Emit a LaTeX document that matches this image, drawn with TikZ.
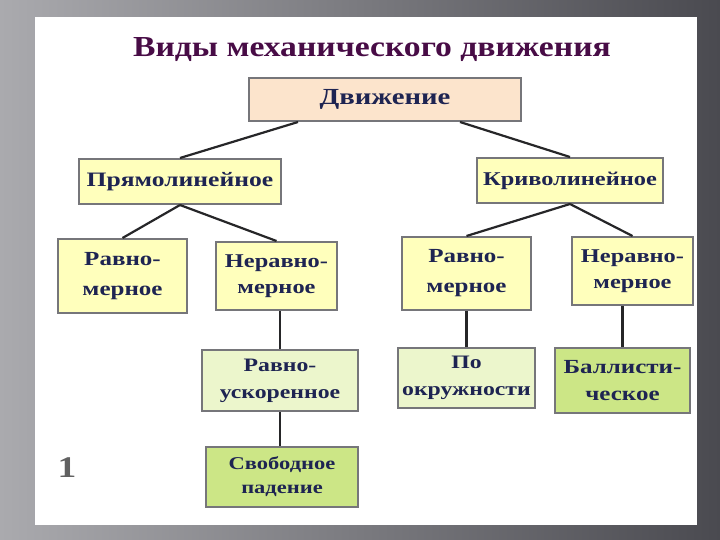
\documentclass[tikz,border=0pt]{standalone}
\usepackage{fontspec}
\usepackage{tikz}
\usetikzlibrary{positioning, calc}
\newfontfamily\slidefont[FakeStretch=1.25]{Liberation Serif}
\newfontfamily\headfont[FakeStretch=1.16]{Liberation Serif}
\definecolor{titlePurple}{RGB}{72,12,70}
\definecolor{textBlue}{RGB}{30,36,82}
\definecolor{frameGray}{RGB}{118,118,122}
\definecolor{peach}{RGB}{252,228,204}
\definecolor{paleYellow}{RGB}{255,255,188}
\definecolor{paleGreen}{RGB}{236,246,204}
\definecolor{leafGreen}{RGB}{204,230,134}
\definecolor{lineDark}{RGB}{38,38,40}
\definecolor{slideLight}{RGB}{170,170,174}
\definecolor{slideDark}{RGB}{74,74,80}

\begin{document}
\begin{tikzpicture}[
  x=1pt, y=-1pt,
  box/.style={draw=frameGray, line width=2pt, text=textBlue, align=center, inner sep=0pt},
  big/.style={box, font=\slidefont\bfseries\fontsize{20.5}{30}\selectfont},
  two/.style={box, font=\slidefont\bfseries\fontsize{20}{30}\selectfont},
  small/.style={box, font=\slidefont\bfseries\fontsize{19}{27}\selectfont},
  link/.style={draw=lineDark, line width=2.2pt}
]
  \shade[left color=slideLight, right color=slideDark] (0,0) rectangle (720,540);
  \fill[white] (35,17) rectangle (697,525);
  \useasboundingbox (0,0) rectangle (720,540);

  \node[anchor=base, text=titlePurple, font=\headfont\bfseries\fontsize{29}{29}\selectfont] (title) at (372,57) {Виды механического движения};

  \node[big, font=\slidefont\bfseries\fontsize{23}{30}\selectfont, fill=peach, minimum width=272, minimum height=43] (dv) at (385,99.5) {Движение};
  \node[big, fill=paleYellow, minimum width=202, minimum height=45] (pr) at (180,181.5) {Прямолинейное};
  \node[big, font=\slidefont\bfseries\fontsize{19.5}{30}\selectfont, fill=paleYellow, minimum width=186, minimum height=45] (kr) at (570,180.5) {Криволинейное};

  \node[two, fill=paleYellow, minimum width=129, minimum height=74] (rvL) at (122.5,276) {Равно-\\мерное};
  \node[two, font=\slidefont\bfseries\fontsize{19.5}{26}\selectfont, fill=paleYellow, minimum width=121, minimum height=68] (nrL) at (276.5,276) {Неравно-\\мерное};
  \node[two, fill=paleYellow, minimum width=129, minimum height=73] (rvR) at (466.5,273.5) {Равно-\\мерное};
  \node[two, font=\slidefont\bfseries\fontsize{19.5}{26}\selectfont, fill=paleYellow, minimum width=121, minimum height=68] (nrR) at (632.5,271) {Неравно-\\мерное};

  \node[small, fill=paleGreen, minimum width=156, minimum height=61] (usk) at (280,380.5) {Равно-\\ускоренное};
  \node[small, fill=paleGreen, minimum width=137, minimum height=60] (okr) at (466.5,378) {По\\окружности};
  \node[two, font=\slidefont\bfseries\fontsize{20}{27}\selectfont, fill=leafGreen, minimum width=135, minimum height=65] (bal) at (622.5,380.5) {Баллисти-\\ческое};
  \node[small, font=\slidefont\bfseries\fontsize{18}{24}\selectfont, fill=leafGreen, minimum width=152, minimum height=60] (pad) at (282,477) {Свободное\\падение};

  \node[text=black!62, font=\slidefont\bfseries\fontsize{30}{30}\selectfont] (num) at (67,468) {1};

  \draw[link] ($(dv.south)+(-87,0)$) -- (pr.north);
  \draw[link] ($(dv.south)+(75,0)$) -- (kr.north);
  \draw[link] (pr.south) -- (rvL.north);
  \draw[link] (pr.south) -- (nrL.north);
  \draw[link] (kr.south) -- (rvR.north);
  \draw[link] (kr.south) -- (nrR.north);
  \draw[link] (usk.north) -- (usk.north |- nrL.south);
  \draw[link] (usk.south) -- (usk.south |- pad.north);
  \draw[link] (okr.north) -- (okr.north |- rvR.south);
  \draw[link] (bal.north) -- (bal.north |- nrR.south);
\end{tikzpicture}
\end{document}
